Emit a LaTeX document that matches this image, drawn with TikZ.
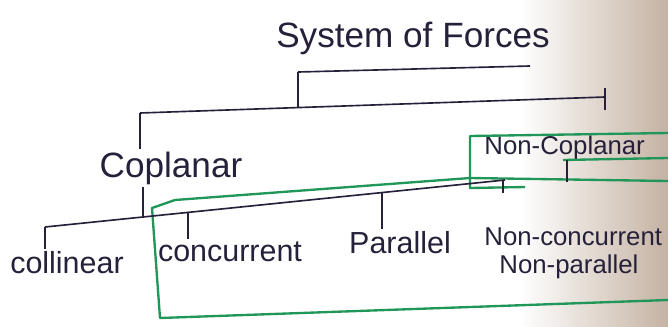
\documentclass[tikz,border=0pt]{standalone}
\usepackage{fontspec}
\setmainfont{Liberation Sans}
\usetikzlibrary{positioning}
\definecolor{ink}{RGB}{38,32,58}
\definecolor{marker}{RGB}{32,150,88}
\definecolor{paper}{RGB}{196,178,162}

\begin{document}
\begin{tikzpicture}[
	lbl/.style={inner sep=2pt, text=ink, font=\fontsize{26}{28}\selectfont},
	big/.style={font=\fontsize{30}{32}\selectfont},
	small/.style={inner sep=1pt, font=\fontsize{22}{24}\selectfont},
	pen/.style={draw=ink, line width=1.4pt},
	box/.style={draw=marker, line width=2pt, line join=round}]
		\useasboundingbox (0cm,0cm) rectangle (20.04cm,-9.78cm);
		\clip (0cm,0cm) rectangle (20.04cm,-9.78cm);
		\shade[left color=white, right color=paper] (15.6cm,0cm) rectangle (20.04cm,-9.78cm);

		\draw (12.39cm,-1.14cm) node[lbl, big] (sys) {System of Forces}
		(5.13cm,-5.04cm) node[lbl, big] (cop) {Coplanar}
		(14.49cm,-4.44cm) node[lbl, small, anchor=west] (ncop) {Non-Coplanar}
		(2.01cm,-7.89cm) node[lbl] (col) {collinear}
		(6.9cm,-7.56cm) node[lbl] (con) {concurrent}
		(12.0cm,-7.29cm) node[lbl] (par) {Parallel}
		(14.49cm,-7.11cm) node[lbl, small, anchor=west] (ncon) {Non-concurrent}
		(14.94cm,-8.01cm) node[lbl, small, anchor=west] (npar) {Non-parallel};

		\coordinate (u1) at (8.94cm,-2.16cm);
		\coordinate (u2) at (15.9cm,-1.98cm);
		\coordinate (j1) at (8.94cm,-3.21cm);
		\coordinate (b1) at (4.2cm,-3.39cm);
		\coordinate (b2) at (18.15cm,-2.91cm);
		\coordinate (c0) at (1.35cm,-6.81cm);
		\coordinate (c1) at (4.29cm,-6.54cm);
		\coordinate (c2) at (5.64cm,-6.37cm);
		\coordinate (c3) at (11.46cm,-5.78cm);
		\coordinate (c4) at (15.09cm,-5.41cm);
		\coordinate (c9) at (15.15cm,-5.4cm);

		% green marker boxes
		\draw[box] (20.04cm,-5.43cm) -- (14.1cm,-5.34cm) -- (5.25cm,-6.0cm) -- (4.56cm,-6.24cm) -- (4.8cm,-9.54cm) -- (20.04cm,-9.0cm);
		\draw[box] (20.04cm,-3.99cm) -- (14.1cm,-4.08cm) -- (14.1cm,-5.64cm) -- (15.75cm,-5.61cm);
		\draw[box] (16.89cm,-4.8cm) -- (20.04cm,-4.74cm);

		\draw[pen] (u1) -- (u2);
		\draw[pen] (u1) -- (j1);
		\draw[pen] (b1) -- (b2);
		\draw[pen] (b1) -- (b1 |- cop.north);
		\draw[pen] (b2) ++(0cm,0.27cm) -- ++(0cm,-0.66cm);
		\draw[pen] (cop.south -| c1) -- (c1);
		\draw[pen] (c0) -- (c9);
		\draw[pen] (c0) -- (c0 |- col.north);
		\draw[pen] (c2) -- (c2 |- con.north);
		\draw[pen] (c3) -- (c3 |- par.north);
		\draw[pen] (c4) -- ++(0cm,-0.39cm);
		\draw[pen] (17.01cm,-4.8cm) -- (17.01cm,-5.46cm);
	\end{tikzpicture}
\end{document}
